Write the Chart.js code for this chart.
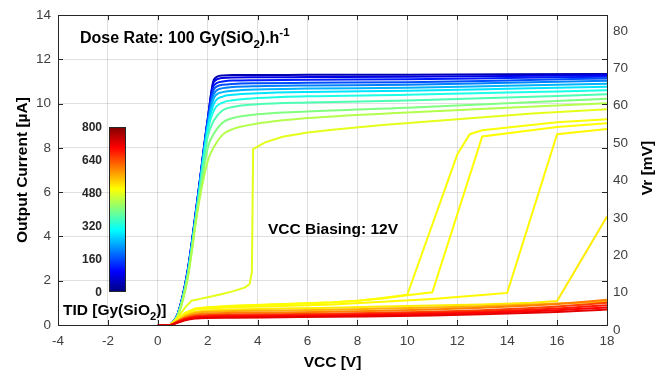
<!DOCTYPE html>
<html>
<head>
<meta charset="utf-8">
<script src="https://cdn.jsdelivr.net/npm/chart.js@4.4.0/dist/chart.umd.min.js"></script>
<style>
  html, body { margin: 0; padding: 0; background: #fff; }
  #wrap { width: 665px; height: 374px; }
</style>
</head>
<body>
<div id="wrap"><canvas id="iv"></canvas></div>
<script>
// saturating curves (low TID)
const vccSat = [0.5, 0.8, 1.2, 1.6, 2.0, 2.25, 2.6, 3, 4, 6, 10, 14, 18]
const tidSat = [40, 80, 120, 160, 200, 240, 280, 320, 360, 400, 440]
const iSat = [
    [0, 0.5, 2.5, 5.8, 9.3, 11.1, 11.27, 11.29, 11.29, 11.30, 11.31, 11.33, 11.34],
    [0, 0.5, 2.5, 5.8, 9.3, 11.0, 11.16, 11.18, 11.19, 11.20, 11.22, 11.25, 11.29],
    [0, 0.5, 2.45, 5.75, 9.25, 10.82, 11.0, 11.04, 11.06, 11.08, 11.10, 11.16, 11.22],
    [0, 0.48, 2.4, 5.7, 9.2, 10.65, 10.85, 10.89, 10.92, 10.94, 10.97, 11.05, 11.14],
    [0, 0.48, 2.4, 5.65, 9.1, 10.45, 10.7, 10.75, 10.79, 10.82, 10.85, 10.94, 11.03],
    [0, 0.46, 2.35, 5.6, 9.0, 10.25, 10.52, 10.58, 10.64, 10.68, 10.72, 10.81, 10.90],
    [0, 0.46, 2.3, 5.55, 8.9, 10.0, 10.32, 10.4, 10.47, 10.53, 10.58, 10.67, 10.76],
    [0, 0.45, 2.3, 5.5, 8.75, 9.7, 10.05, 10.15, 10.25, 10.33, 10.40, 10.50, 10.60],
    [0, 0.44, 2.25, 5.4, 8.5, 9.25, 9.7, 9.85, 9.97, 10.05, 10.14, 10.28, 10.42],
    [0, 0.42, 2.2, 5.3, 8.0, 8.65, 9.15, 9.35, 9.52, 9.65, 9.82, 10.02, 10.22],
    [0, 0.4, 2.1, 5.2, 7.4, 8.05, 8.6, 8.85, 9.1, 9.35, 9.6, 9.82, 10.02]
]

// curves that switch on at a given VCC
const vccJ4 = [0.5, 0.8, 1.1, 1.35, 1.7, 2, 2.5, 3, 3.5, 3.68, 3.77, 3.82, 4.3, 5, 6, 7, 9, 12, 15, 18]
const iJ4 = [0, 0.35, 0.8, 1.1, 1.18, 1.25, 1.38, 1.52, 1.7, 1.85, 2.4, 7.95, 8.25, 8.5, 8.7, 8.82, 9.03, 9.3, 9.55, 9.75]
const vccJ10 = [0.5, 0.8, 1.1, 1.5, 2, 3, 5, 7, 8, 9, 10, 12, 12.5, 13, 16, 18]
const iJ10 = [0, 0.3, 0.55, 0.75, 0.8, 0.87, 0.95, 1.03, 1.1, 1.22, 1.37, 7.7, 8.62, 8.8, 9.16, 9.3]
const vccJ11 = [0.5, 0.8, 1.1, 1.5, 2, 3, 5, 7, 8, 9, 10, 11, 13, 16, 18]
const iJ11 = [0, 0.3, 0.55, 0.74, 0.79, 0.86, 0.94, 1.02, 1.09, 1.2, 1.34, 1.48, 8.52, 8.95, 9.11]
const vccJ14 = [0.5, 0.8, 1.1, 1.5, 2, 3, 5, 7, 9, 11, 12, 13, 14, 16, 18]
const iJ14 = [0, 0.28, 0.5, 0.7, 0.75, 0.8, 0.86, 0.93, 1.05, 1.18, 1.26, 1.35, 1.45, 8.62, 8.86]
const vccJ16 = [0.5, 0.8, 1.1, 1.5, 2, 3, 5, 7, 9, 11, 13, 15, 16, 18]
const iJ16 = [0, 0.25, 0.45, 0.6, 0.65, 0.7, 0.74, 0.78, 0.84, 0.88, 0.93, 1.0, 1.08, 4.9]
const tidJump = [480, 495, 500, 505, 515]

// high TID curves staying low
const vccLow = [0, 0.5, 0.8, 1.1, 1.5, 2, 3, 5, 7, 9, 11, 13, 15, 16, 17, 18]
const tidLow = [560, 600, 650, 680, 700, 720]
const iLow = [
    [0, 0, 0.2, 0.4, 0.55, 0.6, 0.63, 0.66, 0.69, 0.74, 0.79, 0.85, 0.93, 0.97, 1.01, 1.05],
    [0, 0, 0.18, 0.35, 0.47, 0.52, 0.55, 0.57, 0.6, 0.64, 0.7, 0.78, 0.88, 0.95, 1.04, 1.14],
    [0, 0, 0.16, 0.3, 0.41, 0.45, 0.47, 0.49, 0.51, 0.55, 0.6, 0.67, 0.77, 0.84, 0.92, 1.0],
    [0, 0, 0.14, 0.27, 0.37, 0.4, 0.42, 0.44, 0.46, 0.5, 0.54, 0.6, 0.69, 0.75, 0.82, 0.89],
    [0, 0, 0.12, 0.24, 0.33, 0.36, 0.38, 0.39, 0.41, 0.45, 0.49, 0.54, 0.62, 0.67, 0.73, 0.79],
    [0, 0, 0.1, 0.21, 0.29, 0.32, 0.33, 0.35, 0.37, 0.4, 0.43, 0.48, 0.55, 0.59, 0.64, 0.70]
]

const tidMax = 800
const cbarTicks = [0, 160, 320, 480, 640, 800]
const vrTicks = [0, 10, 20, 30, 40, 50, 60, 70, 80]

const FONT = "'Liberation Sans', Arial, Helvetica, sans-serif"

function jet(t){
    const c = v => Math.round(255 * Math.max(0, Math.min(1, v)))
    return `rgb(${c(1.5 - Math.abs(4*t - 3))},${c(1.5 - Math.abs(4*t - 2))},${c(1.5 - Math.abs(4*t - 1))})`
}

function curve(xs, ys, tid, smooth){
    return {
        data: xs.map((v, i) => ({x: v, y: ys[i]})),
        borderColor: jet(tid / tidMax),
        borderWidth: 2,
        pointRadius: 0,
        fill: false,
        cubicInterpolationMode: smooth ? 'monotone' : 'default',
        tension: 0
    }
}

let datasets = []
tidSat.forEach((tid, k) => datasets.push(curve(vccSat, iSat[k], tid, true)))
datasets.push(curve(vccJ4, iJ4, tidJump[0], false))
datasets.push(curve(vccJ10, iJ10, tidJump[1], false))
datasets.push(curve(vccJ11, iJ11, tidJump[2], false))
datasets.push(curve(vccJ14, iJ14, tidJump[3], false))
datasets.push(curve(vccJ16, iJ16, tidJump[4], false))
tidLow.forEach((tid, k) => datasets.push(curve(vccLow, iLow[k], tid, true)))
// later (higher dose) curves on top
datasets.reverse()

function richText(ctx, x, y, runs, size){
    let cx = x
    runs.forEach(r => {
        const s = (r.sub || r.sup) ? size * 0.72 : size
        ctx.font = `bold ${s}px ${FONT}`
        const dy = r.sub ? size * 0.32 : (r.sup ? -size * 0.42 : 0)
        ctx.fillText(r.t, cx, y + dy)
        cx += ctx.measureText(r.t).width
    })
}

const framePlugin = {
    id: 'frame',
    afterDatasetsDraw(chart){
        const {ctx, chartArea: a, scales} = chart
        ctx.save()
        ctx.strokeStyle = '#262626'
        ctx.lineWidth = 1
        ctx.beginPath()
        scales.x.ticks.forEach(t => {
            const px = Math.round(scales.x.getPixelForValue(t.value)) + 0.5
            ctx.moveTo(px, a.bottom); ctx.lineTo(px, a.bottom - 5)
            ctx.moveTo(px, a.top); ctx.lineTo(px, a.top + 5)
        })
        scales.y.ticks.forEach(t => {
            const py = Math.round(scales.y.getPixelForValue(t.value)) + 0.5
            ctx.moveTo(a.left, py); ctx.lineTo(a.left + 5, py)
            ctx.moveTo(a.right, py); ctx.lineTo(a.right - 5, py)
        })
        ctx.stroke()
        ctx.strokeRect(Math.round(a.left) + 0.5, Math.round(a.top) + 0.5,
            Math.round(a.right - a.left), Math.round(a.bottom - a.top))
        ctx.restore()
    }
}

const notesPlugin = {
    id: 'notes',
    afterDraw(chart){
        const ctx = chart.ctx
        ctx.save()
        ctx.fillStyle = '#000'
        ctx.textBaseline = 'alphabetic'
        ctx.textAlign = 'left'
        richText(ctx, 80, 43, [{t: 'Dose Rate: 100 Gy(SiO'}, {t: '2', sub: true}, {t: ').h'}, {t: '-1', sup: true}], 16)
        richText(ctx, 268, 234, [{t: 'VCC Biasing: 12V'}], 15.5)
        richText(ctx, 63, 315, [{t: 'TID [Gy(SiO'}, {t: '2', sub: true}, {t: ')]'}], 15.5)

        // colorbar
        const cb = {left: 109, right: 126, top: 127, bottom: 292}
        const g = ctx.createLinearGradient(0, cb.bottom, 0, cb.top)
        for (let s = 0; s <= 16; s++){ g.addColorStop(s / 16, jet(s / 16)) }
        ctx.fillStyle = g
        ctx.fillRect(cb.left, cb.top, cb.right - cb.left, cb.bottom - cb.top)
        ctx.strokeStyle = '#262626'
        ctx.lineWidth = 1
        ctx.strokeRect(cb.left + 0.5, cb.top + 0.5, cb.right - cb.left - 1, cb.bottom - cb.top - 1)
        ctx.fillStyle = '#262626'
        ctx.font = `bold 12px ${FONT}`
        ctx.textAlign = 'right'
        ctx.textBaseline = 'middle'
        cbarTicks.forEach(v => {
            const py = cb.bottom - (v / tidMax) * (cb.bottom - cb.top)
            ctx.fillText(String(v), 102, py + 1)
        })

        // right axis title, reading upward like the left one
        ctx.translate(648, 168)
        ctx.rotate(-Math.PI / 2)
        ctx.textAlign = 'center'
        ctx.fillStyle = '#000'
        ctx.font = `bold 15.5px ${FONT}`
        ctx.fillText('Vr [mV]', 0, 0)
        ctx.restore()
    }
}

const tickFont = {family: FONT, size: 13.5}
const titleFont = {family: FONT, size: 15.5, weight: 'bold'}
const gridColor = 'rgba(38,38,38,0.14)'

new Chart(document.getElementById('iv'), {
    type: 'line',
    data: {datasets: datasets},
    options: {
        responsive: true,
        maintainAspectRatio: false,
        animation: false,
        layout: {padding: {top: 10, left: 0, right: 0, bottom: 0}},
        plugins: {legend: {display: false}, tooltip: {enabled: false}},
        scales: {
            x: {
                type: 'linear', min: -4, max: 18,
                ticks: {stepSize: 2, color: '#404040', font: tickFont, padding: 8, maxRotation: 0},
                grid: {color: gridColor, drawTicks: false},
                border: {display: false},
                title: {display: true, text: 'VCC [V]', color: '#000', font: titleFont, padding: {top: 0, bottom: 2}},
                afterFit: s => { s.height = 49 }
            },
            y: {
                position: 'left', min: 0, max: 14,
                ticks: {stepSize: 2, color: '#404040', font: tickFont, padding: 7},
                grid: {color: gridColor, drawTicks: false},
                border: {display: false},
                title: {display: true, text: 'Output Current [µA]', color: '#000', font: titleFont, padding: {top: 13, bottom: 0}},
                afterFit: s => { s.width = 58 }
            },
            vr: {
                position: 'right', min: 0, max: 315 / 3.8,
                afterBuildTicks: s => { s.ticks = vrTicks.map(v => ({value: v})) },
                ticks: {color: '#404040', font: tickFont, padding: 6, labelOffset: 5},
                grid: {display: false, drawTicks: false},
                border: {display: false},
                afterFit: s => { s.width = 58 }
            }
        }
    },
    plugins: [framePlugin, notesPlugin]
})
</script>
</body>
</html>
